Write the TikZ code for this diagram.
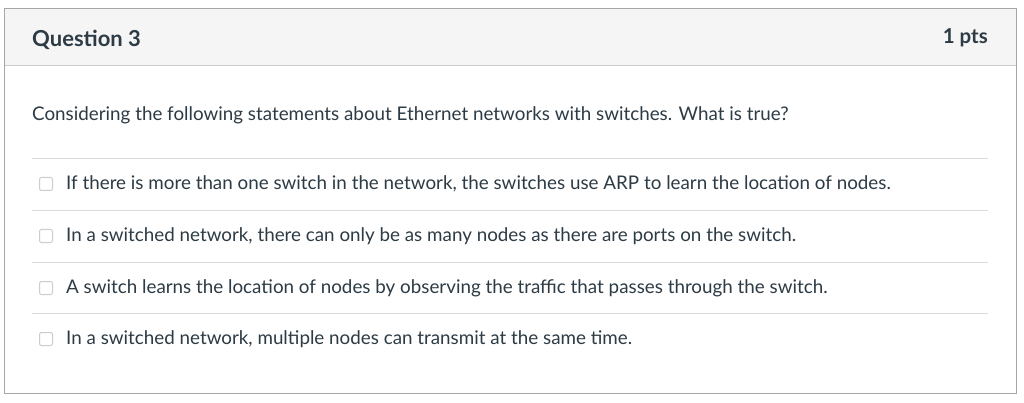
\documentclass[tikz,border=0pt]{standalone}
\usepackage{fontspec}
\setmainfont{Lato}
\usetikzlibrary{positioning}
\definecolor{headgray}{HTML}{F5F5F5}
\definecolor{rulegray}{HTML}{C7CDD1}
\definecolor{textdark}{HTML}{2D3B45}
\begin{document}
\begin{tikzpicture}[x=1pt, y=-1pt,
optiontext/.style={anchor=west, inner sep=0pt, font=\fontsize{18.8}{22}\selectfont, text=textdark},
checkbox/.style={rectangle, draw=rulegray, fill=white, rounded corners=2pt, minimum size=13pt, inner sep=0pt, line width=1pt},
]
\useasboundingbox (0,0) rectangle (1024,403);
%Frame
\fill[white] (4,9) rectangle (1016,393);
\fill[headgray] (4,9) rectangle (1016,66);
\draw[rulegray, line width=1pt] (4,66) -- (1016,66);
\draw[gray!70, line width=1pt] (4,9) rectangle (1016,393);
%Header
\node[optiontext, font=\fontsize{22}{26}\bfseries] (title) at (32,40) {Question 3};
\node[optiontext, anchor=east, font=\fontsize{20.5}{24}\bfseries] (points) at (988,38) {1 pts};
\node[optiontext] (question) at (32,115) {Considering the following statements about Ethernet networks with switches. What is true?};
%Options
\foreach \y/\txt [count=\i] in {
184/{If there is more than one switch in the network, the switches use ARP to learn the location of nodes.},
236/{In a switched network, there can only be as many nodes as there are ports on the switch.},
288/{A switch learns the location of nodes by observing the traffic that passes through the switch.},
339/{In a switched network, multiple nodes can transmit at the same time.}}
{
  \draw[rulegray!70, line width=0.8pt] (32,\y-26) -- (988,\y-26);
  \node[checkbox] (box\i) at (46,\y) {};
  \node[optiontext] (option\i) at (66,\y) {\txt};
}
\end{tikzpicture}
\end{document}
